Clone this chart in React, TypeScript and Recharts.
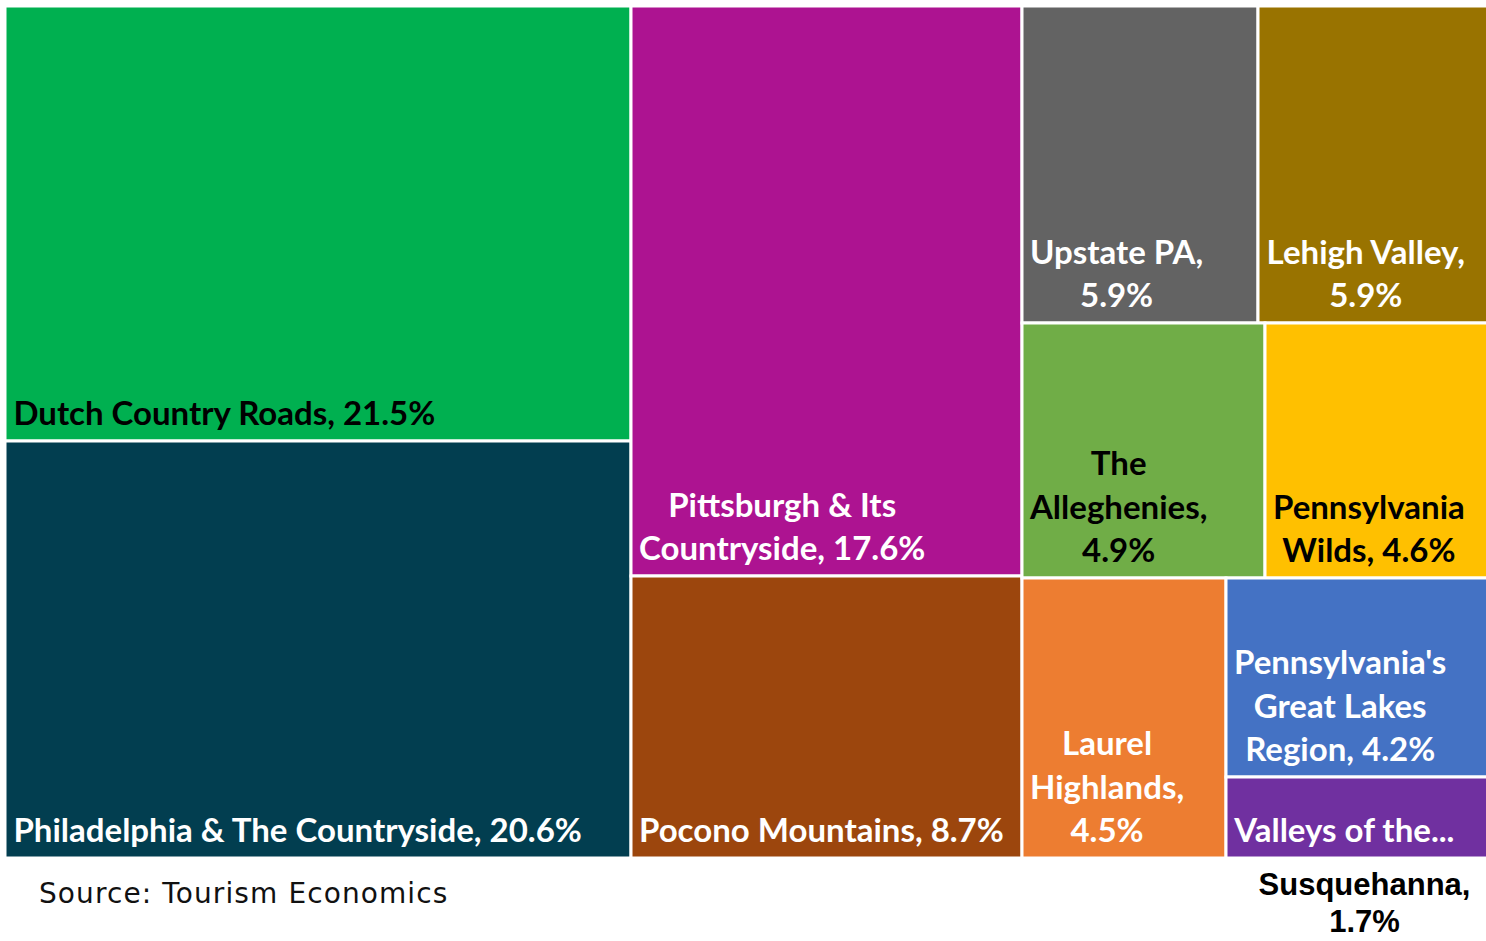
import React from "react";
import { Treemap } from "recharts";

const REGIONS = [
  "Dutch Country Roads",
  "Philadelphia & The Countryside",
  "Pittsburgh & Its Countryside",
  "Pocono Mountains",
  "Upstate PA",
  "Lehigh Valley",
  "The Alleghenies",
  "Pennsylvania Wilds",
  "Laurel Highlands",
  "Pennsylvania's Great Lakes Region",
  "Valleys of the Susquehanna",
];

const SHARES = [21.5, 20.6, 17.6, 8.7, 5.9, 5.9, 4.9, 4.6, 4.5, 4.2, 1.7];

// labels wrapped the way the original breaks them
const LABEL_LINES = [
  ["Dutch Country Roads, 21.5%"],
  ["Philadelphia & The Countryside, 20.6%"],
  ["Pittsburgh & Its", "Countryside, 17.6%"],
  ["Pocono Mountains, 8.7%"],
  ["Upstate PA,", "5.9%"],
  ["Lehigh Valley,", "5.9%"],
  ["The", "Alleghenies,", "4.9%"],
  ["Pennsylvania", "Wilds, 4.6%"],
  ["Laurel", "Highlands,", "4.5%"],
  ["Pennsylvania's", "Great Lakes", "Region, 4.2%"],
  ["Valleys of the..."],
];

// text that spills out under the smallest cell
const SPILL_LINES = [[], [], [], [], [], [], [], [], [], [], ["Susquehanna,", "1.7%"]];

const SOURCE = "Source: Tourism Economics";

const COLORS = [
  "#00B050",
  "#023E50",
  "#AD1391",
  "#9C460D",
  "#636363",
  "#997300",
  "#70AD47",
  "#FFC000",
  "#ED7D31",
  "#4472C4",
  "#7030A0",
];

const TEXT_COLORS = [
  "#000000",
  "#FFFFFF",
  "#FFFFFF",
  "#FFFFFF",
  "#FFFFFF",
  "#FFFFFF",
  "#000000",
  "#000000",
  "#FFFFFF",
  "#FFFFFF",
  "#FFFFFF",
];

const data = REGIONS.map((name, i) => ({ name, size: SHARES[i] }));

const LABEL_SIZE = 33;
const LINE_H = 43.5;
const LABEL_FONT = `bold ${LABEL_SIZE}px Lato`;

let ctx: CanvasRenderingContext2D | null = null;
function measure(s: string) {
  if (!ctx) ctx = document.createElement("canvas").getContext("2d");
  if (!ctx) return s.length * LABEL_SIZE * 0.5;
  ctx.font = LABEL_FONT;
  return ctx.measureText(s).width;
}

function RegionCell(props: any) {
  const { x, y, width, height, depth, index } = props;
  if (depth !== 1) return null;
  const lines = LABEL_LINES[index] || [];
  const spill = SPILL_LINES[index] || [];
  const blockW = Math.max(...lines.map(measure));
  const cx = x + 8 + blockW / 2;
  const lastBase = y + height - 16;
  return (
    <g>
      <rect
        x={x}
        y={y}
        width={width}
        height={height}
        fill={COLORS[index]}
        stroke="#FFFFFF"
        strokeWidth={3}
      />
      <text
        textAnchor="middle"
        fill={TEXT_COLORS[index]}
        fontFamily="Lato"
        fontWeight={700}
        fontSize={LABEL_SIZE}
      >
        {lines.map((l, i) => (
          <tspan key={i} x={cx} y={lastBase - (lines.length - 1 - i) * LINE_H}>
            {l}
          </tspan>
        ))}
      </text>
      {spill.length > 0 && (
        <text
          textAnchor="middle"
          fill="#000000"
          fontFamily="Liberation Sans, Arial, sans-serif"
          fontWeight={700}
          fontSize={31}
        >
          {spill.map((l, i) => (
            <tspan key={i} x={x + width / 2 + 5} y={y + height + 37 + i * 37}>
              {l}
            </tspan>
          ))}
        </text>
      )}
    </g>
  );
}

export default function App() {
  return (
    <div
      style={{
        position: "absolute",
        left: 0,
        top: 0,
        width: 1486,
        height: 941,
        overflow: "hidden",
        background: "#FFFFFF",
      }}
    >
      <style>{".tm svg{overflow:visible !important}"}</style>
      <div className="tm" style={{ position: "absolute", left: 5, top: 6 }}>
        <Treemap
          width={1488}
          height={852}
          data={data}
          dataKey="size"
          nameKey="name"
          aspectRatio={1}
          isAnimationActive={false}
          content={<RegionCell />}
        />
      </div>
      <div
        style={{
          position: "absolute",
          left: 39,
          top: 876,
          fontFamily: "DejaVu Sans",
          fontSize: 28,
          letterSpacing: 1.1,
          lineHeight: "36px",
          color: "#111111",
          whiteSpace: "nowrap",
        }}
      >
        {SOURCE}
      </div>
    </div>
  );
}
